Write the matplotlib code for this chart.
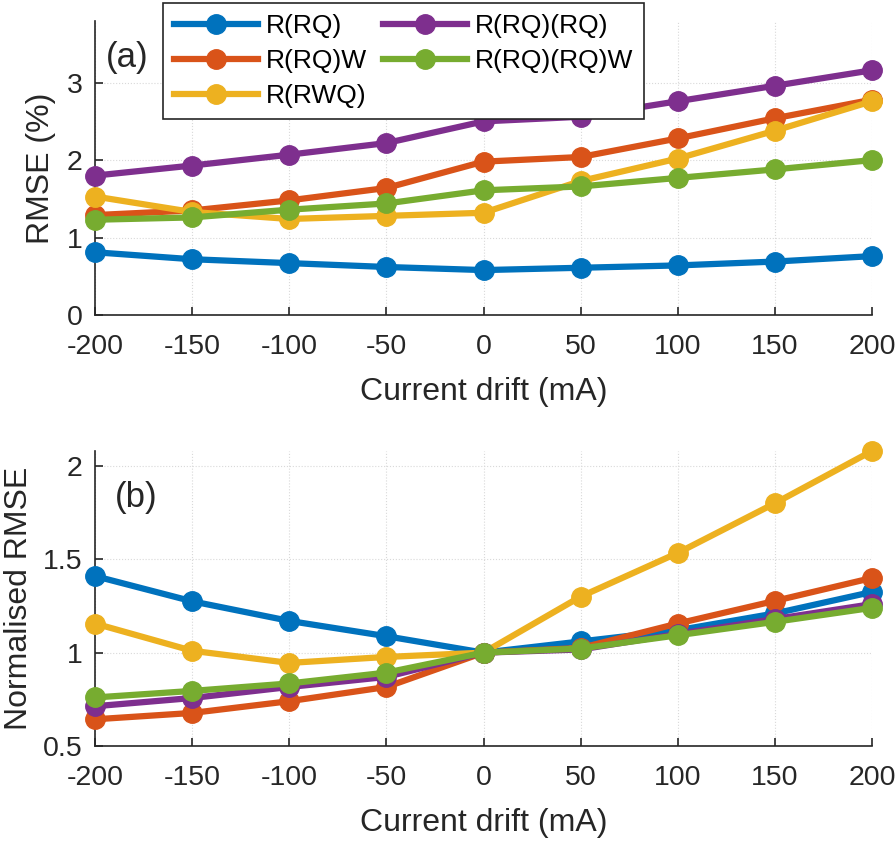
import matplotlib
matplotlib.use("Agg")
import matplotlib.pyplot as plt

plt.rcParams['font.family'] = ['Liberation Sans', 'DejaVu Sans']

drift = [-200, -150, -100, -50, 0, 50, 100, 150, 200]
labels = ['R(RQ)', 'R(RQ)W', 'R(RWQ)', 'R(RQ)(RQ)', 'R(RQ)(RQ)W']
colors = ['#0072BD', '#D95319', '#EDB120', '#7E2F8E', '#77AC30']

rmse_rq = [0.81, 0.72, 0.67, 0.62, 0.58, 0.61, 0.64, 0.69, 0.76]
rmse_rqw = [1.29, 1.35, 1.48, 1.64, 1.98, 2.04, 2.28, 2.54, 2.78]
rmse_rwq = [1.53, 1.33, 1.24, 1.28, 1.32, 1.73, 2.02, 2.38, 2.76]
rmse_rqrq = [1.80, 1.93, 2.07, 2.22, 2.50, 2.56, 2.76, 2.96, 3.16]
rmse_rqrqw = [1.23, 1.26, 1.36, 1.44, 1.61, 1.66, 1.77, 1.88, 2.00]

norm_rq = [1.41, 1.275, 1.17, 1.088, 1.0, 1.06, 1.12, 1.21, 1.325]
norm_rqw = [0.643, 0.677, 0.74, 0.816, 1.0, 1.025, 1.156, 1.277, 1.40]
norm_rwq = [1.156, 1.01, 0.945, 0.977, 1.0, 1.30, 1.534, 1.80, 2.08]
norm_rqrq = [0.713, 0.757, 0.816, 0.87, 1.0, 1.017, 1.10, 1.18, 1.26]
norm_rqrqw = [0.76, 0.795, 0.835, 0.893, 1.0, 1.022, 1.093, 1.165, 1.24]

top_series = [rmse_rq, rmse_rqw, rmse_rwq, rmse_rqrq, rmse_rqrqw]
bot_series = [norm_rq, norm_rqw, norm_rwq, norm_rqrq, norm_rqrqw]

fig = plt.figure(figsize=(8.96, 8.41), dpi=100)
ax1 = fig.add_axes([95/896, 1-315/841, 777/896, 294.3/841])
ax2 = fig.add_axes([95/896, 1-746/841, 777/896, 295/841])

spine_c = '#262626'
for ax, series in ((ax1, top_series), (ax2, bot_series)):
    for s, lab, c in zip(series, labels, colors):
        ax.plot(drift, s, '-o', color=c, lw=4.5, ms=14, label=lab, clip_on=False, zorder=3)
    ax.set_xlim(-200, 200)
    ax.set_xticks(drift)
    ax.set_xticklabels([str(d) for d in drift])
    ax.grid(True, color='#d9d9d9', lw=0.8, ls=':')
    ax.set_axisbelow(True)
    for sp in ('top', 'right'):
        ax.spines[sp].set_visible(False)
    for sp in ('left', 'bottom'):
        ax.spines[sp].set_color(spine_c)
        ax.spines[sp].set_linewidth(1.2)
    ax.tick_params(direction='in', length=6, width=1.2, colors=spine_c,
                   labelsize=20.5, labelcolor='#262626')
    ax.tick_params(axis='x', pad=14)
    ax.tick_params(axis='y', pad=9)
    ax.set_xlabel('Current drift (mA)', fontsize=23, color='#262626', labelpad=12)

ax1.set_ylim(0, 3.8)
ax1.set_yticks([0, 1, 2, 3])
ax1.set_ylabel('RMSE (%)', fontsize=23, color='#262626', labelpad=8)
ax1.text(-183.5, 3.33, '(a)', fontsize=25, ha='center', va='center', color='#262626')

ax2.set_ylim(0.5, 2.08)
ax2.set_yticks([0.5, 1, 1.5, 2])
ax2.set_yticklabels(['0.5', '1', '1.5', '2'])
ax2.set_ylabel('Normalised RMSE', fontsize=23, color='#262626', labelpad=6)
ax2.text(-179, 1.83, '(b)', fontsize=25, ha='center', va='center', color='#262626')

h, l = ax1.get_legend_handles_labels()
leg = ax1.legend(h, l, ncol=2,
                 loc='upper left', bbox_to_anchor=(163/896, 1-3.3/841),
                 bbox_transform=fig.transFigure, fontsize=19, frameon=True,
                 fancybox=False, edgecolor='#262626', framealpha=1,
                 handlelength=3.2, handletextpad=0.3, labelspacing=0.42,
                 columnspacing=0.6, borderpad=0.4, borderaxespad=0)
leg.get_frame().set_linewidth(1.2)
leg.set_zorder(10)

fig.savefig('out.png', dpi=100)
